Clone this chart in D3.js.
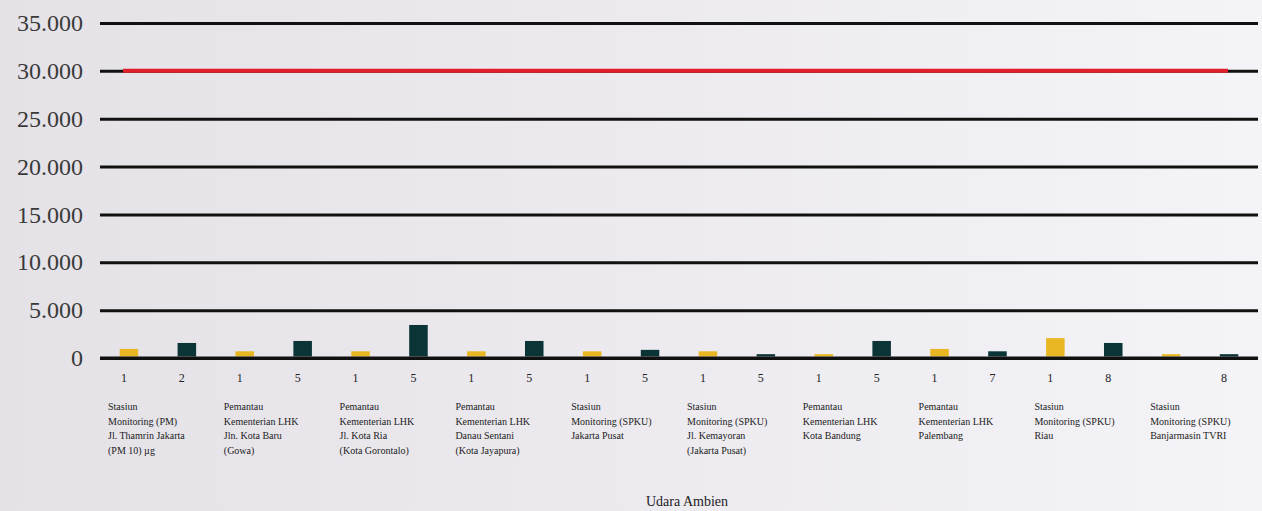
<!DOCTYPE html>
<html>
<head>
<meta charset="utf-8">
<script src="https://cdn.jsdelivr.net/npm/d3@7"></script>
<style>
  html, body { margin: 0; padding: 0; }
  body { width: 1262px; height: 511px; overflow: hidden;
         background: linear-gradient(90deg, #e4e2e7 0%, #eceaef 50%, #f4f3f7 100%); }
  text { font-family: "Liberation Serif", "DejaVu Serif", serif; }
</style>
</head>
<body>
<div id="chart"></div>
<script>
// data
var groups = [
  ["Stasiun", "Monitoring (PM)", "Jl. Thamrin Jakarta", "(PM 10) µg"],
  ["Pemantau", "Kementerian LHK", "Jln. Kota Baru", "(Gowa)"],
  ["Pemantau", "Kementerian LHK", "Jl. Kota Ria", "(Kota Gorontalo)"],
  ["Pemantau", "Kementerian LHK", "Danau Sentani", "(Kota Jayapura)"],
  ["Stasiun", "Monitoring (SPKU)", "Jakarta Pusat"],
  ["Stasiun", "Monitoring (SPKU)", "Jl. Kemayoran", "(Jakarta Pusat)"],
  ["Pemantau", "Kementerian LHK", "Kota Bandung"],
  ["Pemantau", "Kementerian LHK", "Palembang"],
  ["Stasiun", "Monitoring (SPKU)", "Riau"],
  ["Stasiun", "Monitoring (SPKU)", "Banjarmasin TVRI"]
];
var tickA = ["1", "1", "1", "1", "1", "1", "1", "1", "1", ""];
var tickB = ["2", "5", "5", "5", "5", "5", "5", "7", "8", "8"];
var valuesA = [950, 700, 700, 700, 700, 700, 400, 950, 2080, 400];
var valuesB = [1570, 1780, 3450, 1780, 850, 400, 1780, 700, 1570, 400];
var yTicks = [0, 5000, 10000, 15000, 20000, 25000, 30000, 35000];
var limitValue = 30000;
var axisTitle = "Udara Ambien";

var W = 1262, H = 511;
var left = 100, right = 1258, zeroY = 358, topY = 23;

var svg = d3.select("#chart").append("svg")
  .attr("width", W).attr("height", H);

var y = d3.scaleLinear().domain([0, 35000]).range([zeroY, topY]);

// one slot per bar, two bars per group
var slots = [];
groups.forEach(function(g, i){
  slots.push({key: i + "a", value: valuesA[i], tick: tickA[i], color: "#e9b723"});
  slots.push({key: i + "b", value: valuesB[i], tick: tickB[i], color: "#0b3437"});
});
var x = d3.scaleBand().domain(slots.map(function(d){return d.key;}))
  .range([left, right]).paddingInner(0.68).paddingOuter(0.34);
var xg = d3.scaleBand().domain(d3.range(groups.length)).range([left, right]);

var fmt = function(v){ return d3.format(",")(v).replace(/,/g, "."); };

// gridlines + y labels (ticks drawn leftwards from the right edge)
var yAxis = d3.axisLeft(y).tickValues(yTicks).tickSize(right - left).tickFormat(fmt).tickPadding(17);
var ga = svg.append("g").attr("transform", "translate(" + right + ",0)").call(yAxis);
ga.select(".domain").remove();
ga.selectAll(".tick line").attr("stroke", "#111").attr("stroke-width", 3);
ga.selectAll(".tick text")
  .style("font-size", "24px")
  .style("font-family", "Liberation Serif, serif")
  .attr("fill", "#3a3a3a");

// limit line, drawn over the 30.000 gridline
svg.append("line")
  .attr("x1", left + 23).attr("x2", right - 30)
  .attr("y1", y(limitValue)).attr("y2", y(limitValue))
  .attr("stroke", "#e01f2a").attr("stroke-width", 4);

// bars
svg.selectAll(".bar").data(slots).enter().append("rect")
  .attr("class", "bar")
  .attr("x", function(d){return x(d.key);})
  .attr("width", x.bandwidth())
  .attr("y", function(d){return y(d.value);})
  .attr("height", function(d){return zeroY - y(d.value) - 1.5;})
  .attr("fill", function(d){return d.color;});

// redraw the zero line above the bars
svg.append("line")
  .attr("x1", left).attr("x2", right)
  .attr("y1", zeroY).attr("y2", zeroY)
  .attr("stroke", "#111").attr("stroke-width", 3);

// small tick labels under bars
svg.selectAll(".tk").data(slots).enter().append("text")
  .attr("class", "tk")
  .attr("x", function(d){return x(d.key) + x.bandwidth() / 2 - 5;})
  .attr("y", 382)
  .attr("text-anchor", "middle")
  .style("font-size", "12px")
  .attr("fill", "#222")
  .text(function(d){return d.tick;});

// category labels
var cat = svg.selectAll(".cat").data(groups).enter().append("text")
  .attr("class", "cat")
  .attr("x", function(d, i){return xg(i) + 8;})
  .attr("y", 410)
  .style("font-size", "10px")
  .attr("fill", "#222");
cat.selectAll("tspan").data(function(d){return d;}).enter().append("tspan")
  .attr("x", function(){return d3.select(this.parentNode).attr("x");})
  .attr("dy", function(d, i){return i === 0 ? 0 : 14.5;})
  .text(function(d){return d;});

// axis title
svg.append("text")
  .attr("x", 687).attr("y", 506)
  .attr("text-anchor", "middle")
  .style("font-size", "14px")
  .attr("fill", "#222")
  .text(axisTitle);
</script>
</body>
</html>
